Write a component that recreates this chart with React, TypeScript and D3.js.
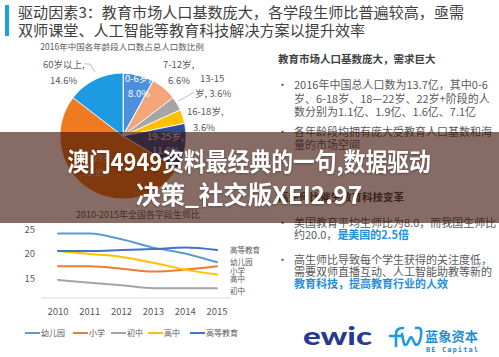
import React from "react";
import * as d3 from "d3";

const ageGroups = ["0-6岁", "7-12岁", "13-15岁", "16-18岁", "19-25岁", "26-59岁", "60岁以上"];
const agePct = [8.0, 6.6, 3.6, 3.6, 11.8, 51.8, 14.6];
const ageColors = ["#4a90dc", "#f5a57c", "#a5a5a5", "#ffc000", "#2f4a9a", "#ef7a1f", "#1c9be2"];

const years = [2010, 2011, 2012, 2013, 2014, 2015];
const seriesNames = ["幼儿园", "小学", "初中", "高中", "高等教育"];
const kindergarten = [24.2, 24.2, 23.0, 21.3, 20.1, 18.3];
const primary = [17.5, 17.5, 17.0, 16.4, 16.8, 17.5];
const junior = [14.7, 14.1, 13.6, 13.0, 13.0, 13.0];
const senior = [20.6, 20.0, 19.4, 18.2, 16.8, 15.8];
const higher = [20.6, 20.6, 20.8, 21.0, 21.3, 20.8];
const seriesColors = ["#5b9bd5", "#ed7d31", "#a5a5a5", "#ffc000", "#4472c4"];
const yTicks = [15, 20, 25];

const FONT = "'Noto Sans CJK SC', 'Noto Sans', sans-serif";

export default function App() {
  const seriesValues = [kindergarten, primary, junior, senior, higher];

  // pie
  const cx = 123, cy = 136, r = 63;
  const pie = d3.pie<number>().sort(null).value((d) => d).startAngle(0).endAngle(2 * Math.PI);
  const arcs = pie(agePct);
  const arcGen = d3.arc<d3.PieArcDatum<number>>().innerRadius(0).outerRadius(r);

  // line chart
  const x = d3.scalePoint<number>().domain(years).range([58, 217]);
  const y = d3.scaleLinear().domain([11, 25]).range([298, 229.5]);
  const line = d3
    .line<number>()
    .x((_, i) => x(years[i]) as number)
    .y((d) => y(d))
    .curve(d3.curveMonotoneX);

  const endLabelY = [262, 271, 291, 279.5, 250];
  const legendX = [25, 73, 111, 148, 190];

  const gray = "#595959";

  return (
    <svg width={499} height={357} style={{ position: "absolute", left: 0, top: 0, background: "#fff" }} fontFamily={FONT}>
      <rect x={0} y={0} width={499} height={357} fill="#ffffff" />
      {/* title */}
      <rect x={5} y={5} width={4} height={31} fill="#1f9ee8" />
      <text x={18} y={18} fontSize={15.1} fill="#404040">
        驱动因素3：教育市场人口基数庞大，各学段生师比普遍较高，亟需
      </text>
      <text x={18} y={35.5} fontSize={15.1} fill="#404040">
        双师课堂、人工智能等教育科技解决方案以提升效率
      </text>

      {/* pie chart */}
      <text x={122} y={50} fontSize={8.5} fill={gray} textAnchor="middle">
        2016年中国各年龄段人口数占总人口数比例
      </text>
      <g transform={`translate(${cx},${cy})`}>
        {arcs.map((a, i) => (
          <path key={i} d={arcGen(a) as string} fill={ageColors[i]} stroke="#ffffff" strokeWidth={i === 0 ? 1.5 : 0.8} />
        ))}
      </g>
      <g fontSize={9.5} fill={gray}>
        <text x={43} y={68}>{ageGroups[6]},</text>
        <text x={50} y={84}>{agePct[6].toFixed(1)}%</text>
        <text x={163} y={68}>{ageGroups[1]},</text>
        <text x={168} y={84}>{agePct[1].toFixed(1)}%</text>
        <text x={200} y={82}>13-15</text>
        <text x={195} y={97}>岁, {agePct[2].toFixed(1)}%</text>
        <text x={187} y={115}>{ageGroups[3]},</text>
        <text x={193} y={131}>{agePct[3].toFixed(1)}%</text>
      </g>
      <polyline points="84,64 90,64 95,72" fill="none" stroke="#a0a0a0" strokeWidth={0.7} />
      <polyline points="178,101 186,97 194,92" fill="none" stroke="#a0a0a0" strokeWidth={0.7} />
      <g fontSize={9.5} fill="#ffffff">
        <text x={125} y={82}>{ageGroups[0]},</text>
        <text x={128} y={97}>{agePct[0].toFixed(1)}%</text>
        <text x={147} y={140} fill="#e8e8e8">{ageGroups[4]},</text>
        <text x={152} y={154} fill="#e8e8e8">{agePct[4].toFixed(1)}%</text>
        <text x={78} y={161} fill="#e6d0c0">{ageGroups[5]},</text>
        <text x={82} y={176} fill="#e6d0c0">{agePct[5].toFixed(1)}%</text>
      </g>

      {/* line chart */}
      <text x={138} y={218} fontSize={9} fill={gray} textAnchor="middle">
        2010-2015年全国各学段生师比
      </text>
      {yTicks.map((t) => (
        <text key={t} x={35} y={y(t) + 3.5} fontSize={9.5} fill={gray} textAnchor="end">
          {t}
        </text>
      ))}
      <line x1={42} x2={230} y1={y(11)} y2={y(11)} stroke="#d9d9d9" strokeWidth={1} />
      {years.map((yr) => (
        <text key={yr} x={x(yr)} y={315} fontSize={9.5} fill={gray} textAnchor="middle">
          {yr}
        </text>
      ))}
      {seriesValues.map((vals, i) => (
        <path key={i} d={line(vals) as string} fill="none" stroke={seriesColors[i]} strokeWidth={2} strokeLinecap="round" />
      ))}
      {seriesNames.map((n, i) => (
        <text key={n} x={230} y={endLabelY[i] + 2.5} fontSize={7.5} fill={gray}>
          {n}
        </text>
      ))}
      {seriesNames.map((n, i) => (
        <g key={n}>
          <line x1={legendX[i]} x2={legendX[i] + 15} y1={333} y2={333} stroke={seriesColors[i]} strokeWidth={2} />
          <text x={legendX[i] + 16} y={336} fontSize={8} fill={gray}>
            {n}
          </text>
        </g>
      ))}

      {/* right panel */}
      <text x={278} y={63} fontSize={10.5} fontWeight={700} fill="#404040">
        教育市场人口基数庞大，需求巨大
      </text>
      <g fontSize={11} fill={gray}>
        <text x={277} y={89}>•</text>
        <text x={294} y={89}>2016年中国总人口数为13.7亿，其中0-6</text>
        <text x={294} y={102.5}>岁、6-18岁、18—22岁、22岁+阶段的人</text>
        <text x={294} y={115.5}>数分别为1.1亿、1.9亿、1.6亿、7.1亿</text>
        <text x={277} y={136}>•</text>
        <text x={294} y={136}>各年龄段均拥有庞大受教育人口基数和海</text>
        <text x={294} y={149}>量的市场空间</text>
      </g>
      <text x={278} y={201} fontSize={10.5} fontWeight={700} fill="#404040">
        高生师比催生教育科技变革
      </text>
      <g fontSize={11} fill={gray}>
        <text x={277} y={227}>•</text>
        <text x={294} y={227}>美国教育平均生师比为8.0，而我国生师比</text>
        <text x={294} y={238.5}>
          约20.0，<tspan fill="#1f8fe0" fontWeight={700}>是美国的2.5倍</tspan>
        </text>
        <text x={277} y={264}>•</text>
        <text x={294} y={264}>高生师比导致每个学生获得的关注度低，</text>
        <text x={294} y={276}>需要双师直播互动、人工智能助教等新的</text>
        <text x={294} y={288} fill="#1f8fe0" fontWeight={700}>
          教育科技，提高教育行业的人效
        </text>
      </g>

      {/* logos */}
      <text x={303} y={345} fontSize={25} fontWeight={900} fontFamily="Lato, Roboto, sans-serif" fill="#283a8f" textLength={69} lengthAdjust="spacingAndGlyphs">
        ewic
      </text>
      <g fill="none" stroke="#1e9be0" strokeWidth={2.6} strokeLinecap="round" strokeLinejoin="round">
        <path d="M396,346 L396,334 Q396,328 403,328" />
        <path d="M390,336 L401,336" />
        <path d="M402,334 L404,344 Q405,346 407,344 L410,338 Q411,336 412,338 L415,344 Q417,346 419,343 Q422,336 421,330 Q420,327 416,328" />
      </g>
      <text x={425} y={340.5} fontSize={13} fontWeight={700} fill="#1b8fd6" textLength={53} lengthAdjust="spacingAndGlyphs">
        蓝象资本
      </text>
      <text x={426} y={352} fontSize={7} fontWeight={700} fill="#1b8fd6" textLength={52} lengthAdjust="spacing" fontFamily="'DejaVu Sans Mono', monospace">
        BE Capital
      </text>

      {/* overlay band */}
      <rect x={0} y={132} width={499} height={91} fill="rgba(60,17,5,0.62)" />
      <g fontWeight={700} fill="#ffffff" fontSize={24.5} textAnchor="middle" style={{ filter: "drop-shadow(0px 1px 1px rgba(0,0,0,0.3))" }}>
        <text transform="translate(249,171) scale(0.89,1)">澳门4949资料最经典的一句,数据驱动</text>
        <text transform="translate(249,204)">决策_社交版XEI2.97</text>
      </g>
    </svg>
  );
}
